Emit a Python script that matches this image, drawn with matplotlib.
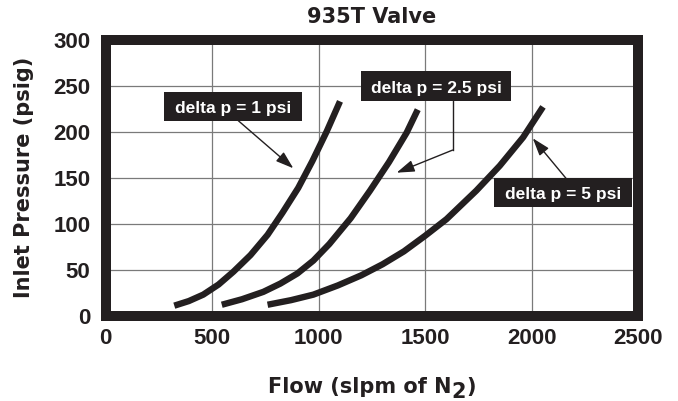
import matplotlib
matplotlib.use("Agg")
import matplotlib.pyplot as plt
from matplotlib.patches import Rectangle

# ---- data ----
x_ticks = [0, 500, 1000, 1500, 2000, 2500]
y_ticks = [0, 50, 100, 150, 200, 250, 300]

flow_1psi = [322, 390, 458, 530, 600, 680, 760, 830, 904, 970, 1037, 1100]
pres_1psi = [11, 16, 23, 34, 48, 66, 88, 112, 139, 168, 200, 233]

flow_2_5psi = [545, 640, 740, 820, 900, 975, 1050, 1150, 1241, 1330, 1413, 1465]
pres_2_5psi = [12, 18, 26, 35, 46, 60, 78, 106, 136, 167, 199, 224]

flow_5psi = [760, 870, 975, 1090, 1200, 1300, 1400, 1500, 1600, 1740, 1850, 1960, 2053]
pres_5psi = [12, 17, 23, 33, 44, 56, 70, 87, 105, 136, 163, 194, 227]

labels = ["delta p = 1 psi", "delta p = 2.5 psi", "delta p = 5 psi"]

DARK = "#231f20"
W, H = 678, 401

fig = plt.figure(figsize=(W / 100, H / 100), dpi=100)
ax = fig.add_axes([105.7 / W, 1 - 315.8 / H, 532.5 / W, 276.1 / H])
ax.set_xlim(0, 2500)
ax.set_ylim(0, 300)
ax.set_xticks(x_ticks)
ax.set_yticks(y_ticks)
ax.grid(True, color="#7a7a7a", lw=0.9, zorder=0)
ax.set_axisbelow(True)
ax.tick_params(length=0, labelsize=16, colors=DARK)
ax.tick_params(axis="x", pad=8.5)
ax.tick_params(axis="y", pad=11)
for lab in ax.get_xticklabels() + ax.get_yticklabels():
    lab.set_fontfamily("Liberation Sans")
    lab.set_fontweight("bold")
for sp in ax.spines.values():
    sp.set_linewidth(7.2)
    sp.set_color(DARK)
    sp.set_zorder(5)

for fx, py in [(flow_1psi, pres_1psi), (flow_2_5psi, pres_2_5psi), (flow_5psi, pres_5psi)]:
    ax.plot(fx, py, color=DARK, lw=4.6, solid_capstyle="butt", solid_joinstyle="round", zorder=3)

# ---- label boxes ----
boxes = [
    (273.7, 920.2, 212.0, 243.5),
    (1198.6, 1902.8, 233.7, 266.0),
    (1823.0, 2469.5, 117.9, 149.4),
]
for (x0, x1, y0, y1), txt in zip(boxes, labels):
    ax.add_patch(Rectangle((x0, y0), x1 - x0, y1 - y0, facecolor=DARK, edgecolor="none", zorder=4))
    ax.text((x0 + x1) / 2, y0 + 8.7, txt, color="white", fontsize=12.5, fontweight="bold",
            family="Liberation Sans", ha="center", va="baseline", zorder=6)

aprops = dict(arrowstyle="-|>,head_length=0.6,head_width=0.2", color=DARK, lw=1.0,
              mutation_scale=18, shrinkA=0, shrinkB=0)
ax.annotate("", xy=(880.8, 160.3), xytext=(622.5, 212.0), arrowprops=aprops, zorder=4)
ax.plot([1629, 1629], [233.7, 180.1], color=DARK, lw=1.0, zorder=4)
ax.annotate("", xy=(1366, 155.5), xytext=(1629, 180.1), arrowprops=aprops, zorder=4)
ax.annotate("", xy=(2005, 192.9), xytext=(2161, 149.4), arrowprops=aprops, zorder=4)

# ---- titles ----
tfont = dict(family="DejaVu Sans", fontweight="bold", fontsize=15, color=DARK)
ax.set_title("935T Valve", pad=12, **tfont)
fig.text(24 / W, 1 - 177.8 / H, "Inlet Pressure (psig)", rotation=90, ha="center", va="center", **tfont)

# x label with lowered full-size "2"
renderer = fig.canvas.get_renderer()
cx = (105.7 + 638.2) / 2 / W
yb = 1 - 393 / H
parts = [("Flow (slpm of N", 0), ("2", -5), (")", 0)]
widths = []
tmp = []
for s, dy in parts:
    t = fig.text(0, 0, s, **tfont)
    widths.append(t.get_window_extent(renderer).width / W)
    t.remove()
total = sum(widths)
xs = cx - total / 2
for (s, dy), w in zip(parts, widths):
    fig.text(xs, yb + dy / H, s, ha="left", va="baseline", **tfont)
    xs += w

fig.savefig("out.png", dpi=100)
